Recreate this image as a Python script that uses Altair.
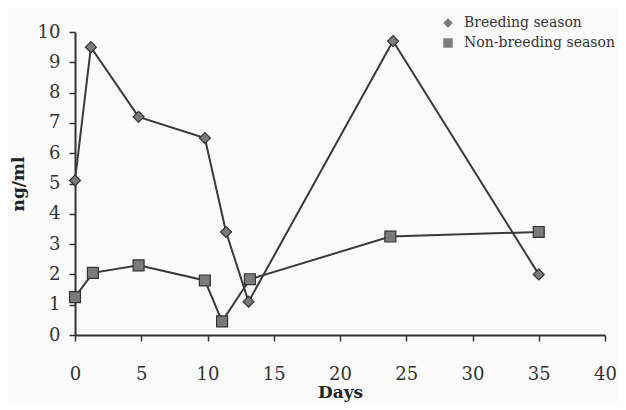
import altair as alt
import pandas as pd

series_names = ["Breeding season", "Non-breeding season"]

breeding_days = [0, 1.2, 4.8, 9.8, 11.4, 13.1, 24.0, 35.0]
breeding_vals = [5.1, 9.5, 7.2, 6.5, 3.4, 1.1, 9.7, 2.0]

nonbreeding_days = [0, 1.35, 4.8, 9.8, 11.1, 13.2, 23.8, 35.0]
nonbreeding_vals = [1.25, 2.05, 2.3, 1.8, 0.45, 1.84, 3.25, 3.4]

x_ticks = [0, 5, 10, 15, 20, 25, 30, 35, 40]
y_ticks = [0, 1, 2, 3, 4, 5, 6, 7, 8, 9, 10]

rows = []
for d, v in zip(breeding_days, breeding_vals):
    rows.append({"Days": d, "ngml": v, "series": series_names[0]})
for d, v in zip(nonbreeding_days, nonbreeding_vals):
    rows.append({"Days": d, "ngml": v, "series": series_names[1]})
df = pd.DataFrame(rows)

FONT = "DejaVu Serif"

x_enc = alt.X("Days:Q", scale=alt.Scale(domain=[0, 40], nice=False),
              axis=alt.Axis(values=x_ticks, title="Days", grid=False,
                            tickSize=6, labelPadding=24, titlePadding=1,
                            labelFontSize=18, titleFontSize=17,
                            titleFontWeight="bold", labelFont=FONT, titleFont=FONT,
                            domainColor="#333", tickColor="#333", labelColor="#333",
                            titleColor="#222", domainWidth=2, tickWidth=1.5,
                            labelFlush=False))
y_enc = alt.Y("ngml:Q", scale=alt.Scale(domain=[0, 10], nice=False),
              axis=alt.Axis(values=y_ticks, title="ng/ml", grid=False,
                            tickSize=6, labelPadding=9, titlePadding=10,
                            labelFontSize=18, titleFontSize=17,
                            titleFontWeight="bold", labelFont=FONT, titleFont=FONT,
                            domainColor="#333", tickColor="#333", labelColor="#333",
                            titleColor="#222", domainWidth=2, tickWidth=1.5,
                            labelFlush=False))

shape_scale = alt.Scale(domain=series_names, range=["diamond", "square"])

lines = alt.Chart(df).mark_line(color="#3a3a3a", strokeWidth=2).encode(
    x=x_enc, y=y_enc, detail="series:N", order="Days:Q"
)

points = alt.Chart(df).mark_point(filled=True, fill="#7a7a7a", stroke="#333",
                                  strokeWidth=1.2, opacity=1, size=120).encode(
    x=x_enc, y=y_enc,
    shape=alt.Shape("series:N", scale=shape_scale,
                    legend=alt.Legend(title=None, orient="none", legendX=366, legendY=-16,
                                      labelFont=FONT, labelFontSize=14, labelColor="#333",
                                      symbolFillColor="#444", symbolStrokeColor="#333",
                                      symbolSize=90, rowPadding=4, labelOffset=9))
)

chart = (lines + points).properties(
    width=530, height=303,
    padding={"left": 67, "top": 24, "right": 13, "bottom": 67},
    autosize=alt.AutoSizeParams(type="none"),
    background="#fbfbfb",
).configure_view(stroke=None)

chart.save("out.html", embed_options={"renderer": "svg", "actions": False})
